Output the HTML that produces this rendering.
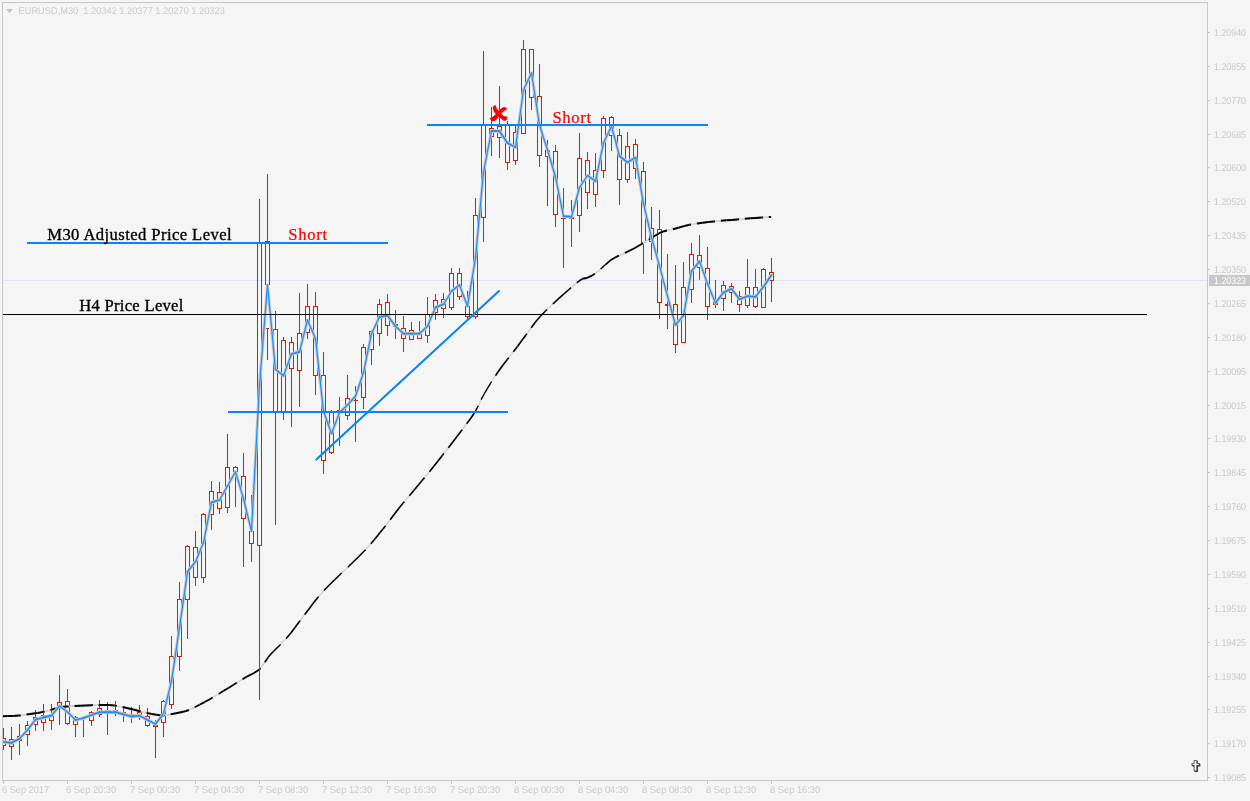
<!DOCTYPE html>
<html lang="en"><head><meta charset="utf-8"><title>EURUSD,M30</title>
<style>html,body{margin:0;padding:0;background:#f5f5f5;}body{width:1250px;height:801px;overflow:hidden;}svg{display:block;}.t{font-family:"Liberation Sans",sans-serif;font-size:9.8px;text-rendering:geometricPrecision;fill:#cacaca;}.s{font-family:"Liberation Serif",serif;font-size:16.6px;}</style></head><body>
<svg width="1250" height="801" viewBox="0 0 1250 801">
<rect x="0" y="0" width="1250" height="801" fill="#f5f5f5"/>
<defs><clipPath id="ca"><rect x="3" y="3" width="1204" height="777"/></clipPath></defs>
<g shape-rendering="crispEdges" fill="#c6c6c6">
<rect x="2" y="2" width="1206" height="1"/>
<rect x="2" y="2" width="1" height="779"/>
<rect x="1207" y="2" width="1" height="779"/>
<rect x="2" y="780" width="1206" height="1"/>
<rect x="1208" y="32" width="2" height="1"/>
<rect x="1208" y="66" width="2" height="1"/>
<rect x="1208" y="100" width="2" height="1"/>
<rect x="1208" y="134" width="2" height="1"/>
<rect x="1208" y="167" width="2" height="1"/>
<rect x="1208" y="201" width="2" height="1"/>
<rect x="1208" y="235" width="2" height="1"/>
<rect x="1208" y="269" width="2" height="1"/>
<rect x="1208" y="303" width="2" height="1"/>
<rect x="1208" y="337" width="2" height="1"/>
<rect x="1208" y="371" width="2" height="1"/>
<rect x="1208" y="405" width="2" height="1"/>
<rect x="1208" y="438" width="2" height="1"/>
<rect x="1208" y="472" width="2" height="1"/>
<rect x="1208" y="506" width="2" height="1"/>
<rect x="1208" y="540" width="2" height="1"/>
<rect x="1208" y="574" width="2" height="1"/>
<rect x="1208" y="608" width="2" height="1"/>
<rect x="1208" y="642" width="2" height="1"/>
<rect x="1208" y="676" width="2" height="1"/>
<rect x="1208" y="709" width="2" height="1"/>
<rect x="1208" y="743" width="2" height="1"/>
<rect x="1208" y="777" width="2" height="1"/>
<rect x="3" y="781" width="1" height="3"/>
<rect x="67" y="781" width="1" height="3"/>
<rect x="131" y="781" width="1" height="3"/>
<rect x="195" y="781" width="1" height="3"/>
<rect x="259" y="781" width="1" height="3"/>
<rect x="323" y="781" width="1" height="3"/>
<rect x="387" y="781" width="1" height="3"/>
<rect x="451" y="781" width="1" height="3"/>
<rect x="515" y="781" width="1" height="3"/>
<rect x="579" y="781" width="1" height="3"/>
<rect x="643" y="781" width="1" height="3"/>
<rect x="707" y="781" width="1" height="3"/>
<rect x="771" y="781" width="1" height="3"/>
</g>
<rect x="3" y="280" width="1204" height="1" fill="#e0e0f8" shape-rendering="crispEdges"/>
<g shape-rendering="crispEdges" fill="#d22000">
<rect x="3" y="728" width="1" height="10"/>
<rect x="3" y="746" width="1" height="4"/>
<rect x="3" y="738" width="3" height="1"/>
<rect x="3" y="745" width="3" height="1"/>
<rect x="5" y="738" width="1" height="8"/>
<rect x="11" y="727" width="1" height="12"/>
<rect x="11" y="747" width="1" height="13"/>
<rect x="9" y="739" width="5" height="1"/>
<rect x="9" y="746" width="5" height="1"/>
<rect x="9" y="739" width="1" height="8"/>
<rect x="13" y="739" width="1" height="8"/>
<rect x="19" y="724" width="1" height="12"/>
<rect x="19" y="741" width="1" height="14"/>
<rect x="17" y="736" width="5" height="1"/>
<rect x="17" y="740" width="5" height="1"/>
<rect x="17" y="736" width="1" height="5"/>
<rect x="21" y="736" width="1" height="5"/>
<rect x="27" y="721" width="1" height="4"/>
<rect x="27" y="735" width="1" height="11"/>
<rect x="25" y="725" width="5" height="1"/>
<rect x="25" y="734" width="5" height="1"/>
<rect x="25" y="725" width="1" height="10"/>
<rect x="29" y="725" width="1" height="10"/>
<rect x="35" y="710" width="1" height="7"/>
<rect x="35" y="725" width="1" height="6"/>
<rect x="33" y="717" width="5" height="1"/>
<rect x="33" y="724" width="5" height="1"/>
<rect x="33" y="717" width="1" height="8"/>
<rect x="37" y="717" width="1" height="8"/>
<rect x="43" y="704" width="1" height="11"/>
<rect x="43" y="723" width="1" height="8"/>
<rect x="41" y="715" width="5" height="1"/>
<rect x="41" y="722" width="5" height="1"/>
<rect x="41" y="715" width="1" height="8"/>
<rect x="45" y="715" width="1" height="8"/>
<rect x="51" y="704" width="1" height="10"/>
<rect x="51" y="721" width="1" height="9"/>
<rect x="49" y="714" width="5" height="1"/>
<rect x="49" y="720" width="5" height="1"/>
<rect x="49" y="714" width="1" height="7"/>
<rect x="53" y="714" width="1" height="7"/>
<rect x="59" y="675" width="1" height="27"/>
<rect x="59" y="709" width="1" height="16"/>
<rect x="57" y="702" width="5" height="1"/>
<rect x="57" y="708" width="5" height="1"/>
<rect x="57" y="702" width="1" height="7"/>
<rect x="61" y="702" width="1" height="7"/>
<rect x="67" y="689" width="1" height="12"/>
<rect x="67" y="724" width="1" height="1"/>
<rect x="65" y="701" width="5" height="1"/>
<rect x="65" y="723" width="5" height="1"/>
<rect x="65" y="701" width="1" height="23"/>
<rect x="69" y="701" width="1" height="23"/>
<rect x="75" y="716" width="1" height="1"/>
<rect x="75" y="725" width="1" height="12"/>
<rect x="73" y="717" width="5" height="1"/>
<rect x="73" y="724" width="5" height="1"/>
<rect x="73" y="717" width="1" height="8"/>
<rect x="77" y="717" width="1" height="8"/>
<rect x="83" y="717" width="1" height="1"/>
<rect x="83" y="719" width="1" height="18"/>
<rect x="81" y="718" width="5" height="1"/>
<rect x="91" y="711" width="1" height="1"/>
<rect x="91" y="721" width="1" height="5"/>
<rect x="89" y="712" width="5" height="1"/>
<rect x="89" y="720" width="5" height="1"/>
<rect x="89" y="712" width="1" height="9"/>
<rect x="93" y="712" width="1" height="9"/>
<rect x="99" y="700" width="1" height="8"/>
<rect x="99" y="715" width="1" height="2"/>
<rect x="97" y="708" width="5" height="1"/>
<rect x="97" y="714" width="5" height="1"/>
<rect x="97" y="708" width="1" height="7"/>
<rect x="101" y="708" width="1" height="7"/>
<rect x="107" y="702" width="1" height="8"/>
<rect x="107" y="712" width="1" height="23"/>
<rect x="105" y="710" width="5" height="1"/>
<rect x="105" y="711" width="5" height="1"/>
<rect x="105" y="710" width="1" height="2"/>
<rect x="109" y="710" width="1" height="2"/>
<rect x="115" y="701" width="1" height="9"/>
<rect x="115" y="713" width="1" height="3"/>
<rect x="113" y="710" width="5" height="1"/>
<rect x="113" y="712" width="5" height="1"/>
<rect x="113" y="710" width="1" height="3"/>
<rect x="117" y="710" width="1" height="3"/>
<rect x="123" y="708" width="1" height="4"/>
<rect x="123" y="715" width="1" height="7"/>
<rect x="121" y="712" width="5" height="1"/>
<rect x="121" y="714" width="5" height="1"/>
<rect x="121" y="712" width="1" height="3"/>
<rect x="125" y="712" width="1" height="3"/>
<rect x="131" y="707" width="1" height="7"/>
<rect x="131" y="717" width="1" height="6"/>
<rect x="129" y="714" width="5" height="1"/>
<rect x="129" y="716" width="5" height="1"/>
<rect x="129" y="714" width="1" height="3"/>
<rect x="133" y="714" width="1" height="3"/>
<rect x="139" y="705" width="1" height="7"/>
<rect x="139" y="716" width="1" height="4"/>
<rect x="137" y="712" width="5" height="1"/>
<rect x="137" y="715" width="5" height="1"/>
<rect x="137" y="712" width="1" height="4"/>
<rect x="141" y="712" width="1" height="4"/>
<rect x="147" y="708" width="1" height="8"/>
<rect x="147" y="726" width="1" height="1"/>
<rect x="145" y="716" width="5" height="1"/>
<rect x="145" y="725" width="5" height="1"/>
<rect x="145" y="716" width="1" height="10"/>
<rect x="149" y="716" width="1" height="10"/>
<rect x="155" y="720" width="1" height="5"/>
<rect x="155" y="727" width="1" height="31"/>
<rect x="153" y="725" width="5" height="1"/>
<rect x="153" y="726" width="5" height="1"/>
<rect x="153" y="725" width="1" height="2"/>
<rect x="157" y="725" width="1" height="2"/>
<rect x="163" y="700" width="1" height="1"/>
<rect x="163" y="723" width="1" height="14"/>
<rect x="161" y="701" width="5" height="1"/>
<rect x="161" y="722" width="5" height="1"/>
<rect x="161" y="701" width="1" height="22"/>
<rect x="165" y="701" width="1" height="22"/>
<rect x="171" y="636" width="1" height="20"/>
<rect x="171" y="705" width="1" height="4"/>
<rect x="169" y="656" width="5" height="1"/>
<rect x="169" y="704" width="5" height="1"/>
<rect x="169" y="656" width="1" height="49"/>
<rect x="173" y="656" width="1" height="49"/>
<rect x="179" y="582" width="1" height="17"/>
<rect x="179" y="657" width="1" height="14"/>
<rect x="177" y="599" width="5" height="1"/>
<rect x="177" y="656" width="5" height="1"/>
<rect x="177" y="599" width="1" height="58"/>
<rect x="181" y="599" width="1" height="58"/>
<rect x="187" y="545" width="1" height="1"/>
<rect x="187" y="600" width="1" height="39"/>
<rect x="185" y="546" width="5" height="1"/>
<rect x="185" y="599" width="5" height="1"/>
<rect x="185" y="546" width="1" height="54"/>
<rect x="189" y="546" width="1" height="54"/>
<rect x="195" y="531" width="1" height="16"/>
<rect x="195" y="578" width="1" height="8"/>
<rect x="193" y="547" width="5" height="1"/>
<rect x="193" y="577" width="5" height="1"/>
<rect x="193" y="547" width="1" height="31"/>
<rect x="197" y="547" width="1" height="31"/>
<rect x="203" y="513" width="1" height="1"/>
<rect x="203" y="578" width="1" height="5"/>
<rect x="201" y="514" width="5" height="1"/>
<rect x="201" y="577" width="5" height="1"/>
<rect x="201" y="514" width="1" height="64"/>
<rect x="205" y="514" width="1" height="64"/>
<rect x="211" y="481" width="1" height="10"/>
<rect x="211" y="515" width="1" height="15"/>
<rect x="209" y="491" width="5" height="1"/>
<rect x="209" y="514" width="5" height="1"/>
<rect x="209" y="491" width="1" height="24"/>
<rect x="213" y="491" width="1" height="24"/>
<rect x="219" y="482" width="1" height="10"/>
<rect x="219" y="509" width="1" height="5"/>
<rect x="217" y="492" width="5" height="1"/>
<rect x="217" y="508" width="5" height="1"/>
<rect x="217" y="492" width="1" height="17"/>
<rect x="221" y="492" width="1" height="17"/>
<rect x="227" y="434" width="1" height="33"/>
<rect x="227" y="508" width="1" height="5"/>
<rect x="225" y="467" width="5" height="1"/>
<rect x="225" y="507" width="5" height="1"/>
<rect x="225" y="467" width="1" height="41"/>
<rect x="229" y="467" width="1" height="41"/>
<rect x="235" y="466" width="1" height="1"/>
<rect x="235" y="472" width="1" height="35"/>
<rect x="233" y="467" width="5" height="1"/>
<rect x="233" y="471" width="5" height="1"/>
<rect x="233" y="467" width="1" height="5"/>
<rect x="237" y="467" width="1" height="5"/>
<rect x="243" y="453" width="1" height="23"/>
<rect x="243" y="519" width="1" height="48"/>
<rect x="241" y="476" width="5" height="1"/>
<rect x="241" y="518" width="5" height="1"/>
<rect x="241" y="476" width="1" height="43"/>
<rect x="245" y="476" width="1" height="43"/>
<rect x="251" y="495" width="1" height="36"/>
<rect x="251" y="544" width="1" height="18"/>
<rect x="249" y="531" width="5" height="1"/>
<rect x="249" y="543" width="5" height="1"/>
<rect x="249" y="531" width="1" height="13"/>
<rect x="253" y="531" width="1" height="13"/>
<rect x="259" y="199" width="1" height="43"/>
<rect x="259" y="546" width="1" height="154"/>
<rect x="257" y="242" width="5" height="1"/>
<rect x="257" y="545" width="5" height="1"/>
<rect x="257" y="242" width="1" height="304"/>
<rect x="261" y="242" width="1" height="304"/>
<rect x="267" y="174" width="1" height="67"/>
<rect x="266" y="328" width="3" height="1"/><rect x="267" y="328" width="1" height="32"/>
<rect x="265" y="241" width="5" height="1"/>
<rect x="265" y="284" width="5" height="1"/>
<rect x="265" y="241" width="1" height="44"/>
<rect x="269" y="241" width="1" height="44"/>
<rect x="275" y="311" width="1" height="18"/>
<rect x="275" y="412" width="1" height="113"/>
<rect x="273" y="329" width="5" height="1"/>
<rect x="273" y="411" width="5" height="1"/>
<rect x="273" y="329" width="1" height="83"/>
<rect x="277" y="329" width="1" height="83"/>
<rect x="283" y="337" width="1" height="3"/>
<rect x="283" y="412" width="1" height="8"/>
<rect x="281" y="340" width="5" height="1"/>
<rect x="281" y="411" width="5" height="1"/>
<rect x="281" y="340" width="1" height="72"/>
<rect x="285" y="340" width="1" height="72"/>
<rect x="291" y="337" width="1" height="5"/>
<rect x="291" y="369" width="1" height="58"/>
<rect x="289" y="342" width="5" height="1"/>
<rect x="289" y="368" width="5" height="1"/>
<rect x="289" y="342" width="1" height="27"/>
<rect x="293" y="342" width="1" height="27"/>
<rect x="299" y="293" width="1" height="40"/>
<rect x="299" y="371" width="1" height="36"/>
<rect x="297" y="333" width="5" height="1"/>
<rect x="297" y="370" width="5" height="1"/>
<rect x="297" y="333" width="1" height="38"/>
<rect x="301" y="333" width="1" height="38"/>
<rect x="307" y="284" width="1" height="22"/>
<rect x="307" y="333" width="1" height="6"/>
<rect x="305" y="306" width="5" height="1"/>
<rect x="305" y="332" width="5" height="1"/>
<rect x="305" y="306" width="1" height="27"/>
<rect x="309" y="306" width="1" height="27"/>
<rect x="315" y="292" width="1" height="14"/>
<rect x="315" y="376" width="1" height="19"/>
<rect x="313" y="306" width="5" height="1"/>
<rect x="313" y="375" width="5" height="1"/>
<rect x="313" y="306" width="1" height="70"/>
<rect x="317" y="306" width="1" height="70"/>
<rect x="323" y="352" width="1" height="23"/>
<rect x="323" y="461" width="1" height="13"/>
<rect x="321" y="375" width="5" height="1"/>
<rect x="321" y="460" width="5" height="1"/>
<rect x="321" y="375" width="1" height="86"/>
<rect x="325" y="375" width="1" height="86"/>
<rect x="331" y="410" width="1" height="2"/>
<rect x="331" y="453" width="1" height="1"/>
<rect x="329" y="412" width="5" height="1"/>
<rect x="329" y="452" width="5" height="1"/>
<rect x="329" y="412" width="1" height="41"/>
<rect x="333" y="412" width="1" height="41"/>
<rect x="339" y="397" width="1" height="13"/>
<rect x="339" y="413" width="1" height="33"/>
<rect x="337" y="410" width="5" height="1"/>
<rect x="337" y="412" width="5" height="1"/>
<rect x="337" y="410" width="1" height="3"/>
<rect x="341" y="410" width="1" height="3"/>
<rect x="347" y="375" width="1" height="23"/>
<rect x="347" y="416" width="1" height="4"/>
<rect x="345" y="398" width="5" height="1"/>
<rect x="345" y="415" width="5" height="1"/>
<rect x="345" y="398" width="1" height="18"/>
<rect x="349" y="398" width="1" height="18"/>
<rect x="355" y="386" width="1" height="14"/>
<rect x="355" y="401" width="1" height="41"/>
<rect x="353" y="400" width="5" height="1"/>
<rect x="363" y="344" width="1" height="3"/>
<rect x="363" y="398" width="1" height="11"/>
<rect x="361" y="347" width="5" height="1"/>
<rect x="361" y="397" width="5" height="1"/>
<rect x="361" y="347" width="1" height="51"/>
<rect x="365" y="347" width="1" height="51"/>
<rect x="371" y="330" width="1" height="1"/>
<rect x="371" y="350" width="1" height="15"/>
<rect x="369" y="331" width="5" height="1"/>
<rect x="369" y="349" width="5" height="1"/>
<rect x="369" y="331" width="1" height="19"/>
<rect x="373" y="331" width="1" height="19"/>
<rect x="379" y="299" width="1" height="5"/>
<rect x="379" y="334" width="1" height="12"/>
<rect x="377" y="304" width="5" height="1"/>
<rect x="377" y="333" width="5" height="1"/>
<rect x="377" y="304" width="1" height="30"/>
<rect x="381" y="304" width="1" height="30"/>
<rect x="387" y="294" width="1" height="8"/>
<rect x="387" y="326" width="1" height="10"/>
<rect x="385" y="302" width="5" height="1"/>
<rect x="385" y="325" width="5" height="1"/>
<rect x="385" y="302" width="1" height="24"/>
<rect x="389" y="302" width="1" height="24"/>
<rect x="395" y="310" width="1" height="14"/>
<rect x="395" y="327" width="1" height="12"/>
<rect x="393" y="324" width="5" height="1"/>
<rect x="393" y="326" width="5" height="1"/>
<rect x="393" y="324" width="1" height="3"/>
<rect x="397" y="324" width="1" height="3"/>
<rect x="403" y="316" width="1" height="12"/>
<rect x="403" y="339" width="1" height="13"/>
<rect x="401" y="328" width="5" height="1"/>
<rect x="401" y="338" width="5" height="1"/>
<rect x="401" y="328" width="1" height="11"/>
<rect x="405" y="328" width="1" height="11"/>
<rect x="411" y="322" width="1" height="8"/>
<rect x="409" y="330" width="5" height="1"/>
<rect x="409" y="339" width="5" height="1"/>
<rect x="409" y="330" width="1" height="10"/>
<rect x="413" y="330" width="1" height="10"/>
<rect x="419" y="321" width="1" height="11"/>
<rect x="417" y="332" width="5" height="1"/>
<rect x="417" y="338" width="5" height="1"/>
<rect x="417" y="332" width="1" height="7"/>
<rect x="421" y="332" width="1" height="7"/>
<rect x="427" y="297" width="1" height="17"/>
<rect x="427" y="336" width="1" height="7"/>
<rect x="425" y="314" width="5" height="1"/>
<rect x="425" y="335" width="5" height="1"/>
<rect x="425" y="314" width="1" height="22"/>
<rect x="429" y="314" width="1" height="22"/>
<rect x="435" y="294" width="1" height="6"/>
<rect x="435" y="313" width="1" height="7"/>
<rect x="433" y="300" width="5" height="1"/>
<rect x="433" y="312" width="5" height="1"/>
<rect x="433" y="300" width="1" height="13"/>
<rect x="437" y="300" width="1" height="13"/>
<rect x="443" y="293" width="1" height="6"/>
<rect x="443" y="309" width="1" height="9"/>
<rect x="441" y="299" width="5" height="1"/>
<rect x="441" y="308" width="5" height="1"/>
<rect x="441" y="299" width="1" height="10"/>
<rect x="445" y="299" width="1" height="10"/>
<rect x="451" y="268" width="1" height="5"/>
<rect x="451" y="308" width="1" height="2"/>
<rect x="449" y="273" width="5" height="1"/>
<rect x="449" y="307" width="5" height="1"/>
<rect x="449" y="273" width="1" height="35"/>
<rect x="453" y="273" width="1" height="35"/>
<rect x="459" y="268" width="1" height="5"/>
<rect x="459" y="297" width="1" height="3"/>
<rect x="457" y="273" width="5" height="1"/>
<rect x="457" y="296" width="5" height="1"/>
<rect x="457" y="273" width="1" height="24"/>
<rect x="461" y="273" width="1" height="24"/>
<rect x="467" y="291" width="1" height="15"/>
<rect x="467" y="317" width="1" height="2"/>
<rect x="465" y="306" width="5" height="1"/>
<rect x="465" y="316" width="5" height="1"/>
<rect x="465" y="306" width="1" height="11"/>
<rect x="469" y="306" width="1" height="11"/>
<rect x="475" y="198" width="1" height="17"/>
<rect x="475" y="317" width="1" height="2"/>
<rect x="473" y="215" width="5" height="1"/>
<rect x="473" y="316" width="5" height="1"/>
<rect x="473" y="215" width="1" height="102"/>
<rect x="477" y="215" width="1" height="102"/>
<rect x="483" y="51" width="1" height="74"/>
<rect x="483" y="218" width="1" height="24"/>
<rect x="481" y="125" width="5" height="1"/>
<rect x="481" y="217" width="5" height="1"/>
<rect x="481" y="125" width="1" height="93"/>
<rect x="485" y="125" width="1" height="93"/>
<rect x="491" y="107" width="1" height="21"/>
<rect x="491" y="137" width="1" height="19"/>
<rect x="489" y="128" width="5" height="1"/>
<rect x="489" y="136" width="5" height="1"/>
<rect x="489" y="128" width="1" height="9"/>
<rect x="493" y="128" width="1" height="9"/>
<rect x="499" y="86" width="1" height="40"/>
<rect x="499" y="138" width="1" height="20"/>
<rect x="497" y="126" width="5" height="1"/>
<rect x="497" y="137" width="5" height="1"/>
<rect x="497" y="126" width="1" height="12"/>
<rect x="501" y="126" width="1" height="12"/>
<rect x="507" y="121" width="1" height="4"/>
<rect x="507" y="163" width="1" height="7"/>
<rect x="505" y="125" width="5" height="1"/>
<rect x="505" y="162" width="5" height="1"/>
<rect x="505" y="125" width="1" height="38"/>
<rect x="509" y="125" width="1" height="38"/>
<rect x="515" y="126" width="1" height="6"/>
<rect x="515" y="161" width="1" height="4"/>
<rect x="513" y="132" width="5" height="1"/>
<rect x="513" y="160" width="5" height="1"/>
<rect x="513" y="132" width="1" height="29"/>
<rect x="517" y="132" width="1" height="29"/>
<rect x="523" y="40" width="1" height="9"/>
<rect x="521" y="49" width="5" height="1"/>
<rect x="521" y="133" width="5" height="1"/>
<rect x="521" y="49" width="1" height="85"/>
<rect x="525" y="49" width="1" height="85"/>
<rect x="531" y="98" width="1" height="12"/>
<rect x="529" y="49" width="5" height="1"/>
<rect x="529" y="97" width="5" height="1"/>
<rect x="529" y="49" width="1" height="49"/>
<rect x="533" y="49" width="1" height="49"/>
<rect x="539" y="64" width="1" height="32"/>
<rect x="539" y="156" width="1" height="11"/>
<rect x="537" y="96" width="5" height="1"/>
<rect x="537" y="155" width="5" height="1"/>
<rect x="537" y="96" width="1" height="60"/>
<rect x="541" y="96" width="1" height="60"/>
<rect x="547" y="140" width="1" height="10"/>
<rect x="547" y="157" width="1" height="49"/>
<rect x="545" y="150" width="5" height="1"/>
<rect x="545" y="156" width="5" height="1"/>
<rect x="545" y="150" width="1" height="7"/>
<rect x="549" y="150" width="1" height="7"/>
<rect x="555" y="145" width="1" height="6"/>
<rect x="555" y="215" width="1" height="12"/>
<rect x="553" y="151" width="5" height="1"/>
<rect x="553" y="214" width="5" height="1"/>
<rect x="553" y="151" width="1" height="64"/>
<rect x="557" y="151" width="1" height="64"/>
<rect x="563" y="188" width="1" height="30"/>
<rect x="563" y="219" width="1" height="49"/>
<rect x="561" y="218" width="5" height="1"/>
<rect x="571" y="200" width="1" height="17"/>
<rect x="571" y="219" width="1" height="28"/>
<rect x="569" y="217" width="5" height="1"/>
<rect x="569" y="218" width="5" height="1"/>
<rect x="569" y="217" width="1" height="2"/>
<rect x="573" y="217" width="1" height="2"/>
<rect x="579" y="133" width="1" height="25"/>
<rect x="579" y="216" width="1" height="16"/>
<rect x="577" y="158" width="5" height="1"/>
<rect x="577" y="215" width="5" height="1"/>
<rect x="577" y="158" width="1" height="58"/>
<rect x="581" y="158" width="1" height="58"/>
<rect x="587" y="152" width="1" height="8"/>
<rect x="587" y="193" width="1" height="16"/>
<rect x="585" y="160" width="5" height="1"/>
<rect x="585" y="192" width="5" height="1"/>
<rect x="585" y="160" width="1" height="33"/>
<rect x="589" y="160" width="1" height="33"/>
<rect x="595" y="153" width="1" height="17"/>
<rect x="595" y="195" width="1" height="12"/>
<rect x="593" y="170" width="5" height="1"/>
<rect x="593" y="194" width="5" height="1"/>
<rect x="593" y="170" width="1" height="25"/>
<rect x="597" y="170" width="1" height="25"/>
<rect x="603" y="116" width="1" height="2"/>
<rect x="603" y="171" width="1" height="7"/>
<rect x="601" y="118" width="5" height="1"/>
<rect x="601" y="170" width="5" height="1"/>
<rect x="601" y="118" width="1" height="53"/>
<rect x="605" y="118" width="1" height="53"/>
<rect x="611" y="116" width="1" height="1"/>
<rect x="611" y="136" width="1" height="15"/>
<rect x="609" y="117" width="5" height="1"/>
<rect x="609" y="135" width="5" height="1"/>
<rect x="609" y="117" width="1" height="19"/>
<rect x="613" y="117" width="1" height="19"/>
<rect x="619" y="129" width="1" height="6"/>
<rect x="619" y="180" width="1" height="25"/>
<rect x="617" y="135" width="5" height="1"/>
<rect x="617" y="179" width="5" height="1"/>
<rect x="617" y="135" width="1" height="45"/>
<rect x="621" y="135" width="1" height="45"/>
<rect x="627" y="132" width="1" height="14"/>
<rect x="627" y="180" width="1" height="3"/>
<rect x="625" y="146" width="5" height="1"/>
<rect x="625" y="179" width="5" height="1"/>
<rect x="625" y="146" width="1" height="34"/>
<rect x="629" y="146" width="1" height="34"/>
<rect x="635" y="139" width="1" height="5"/>
<rect x="635" y="169" width="1" height="10"/>
<rect x="633" y="144" width="5" height="1"/>
<rect x="633" y="168" width="5" height="1"/>
<rect x="633" y="144" width="1" height="25"/>
<rect x="637" y="144" width="1" height="25"/>
<rect x="643" y="162" width="1" height="9"/>
<rect x="643" y="243" width="1" height="31"/>
<rect x="641" y="171" width="5" height="1"/>
<rect x="641" y="242" width="5" height="1"/>
<rect x="641" y="171" width="1" height="72"/>
<rect x="645" y="171" width="1" height="72"/>
<rect x="651" y="207" width="1" height="21"/>
<rect x="651" y="242" width="1" height="18"/>
<rect x="649" y="228" width="5" height="1"/>
<rect x="649" y="241" width="5" height="1"/>
<rect x="649" y="228" width="1" height="14"/>
<rect x="653" y="228" width="1" height="14"/>
<rect x="659" y="210" width="1" height="19"/>
<rect x="659" y="303" width="1" height="16"/>
<rect x="657" y="229" width="5" height="1"/>
<rect x="657" y="302" width="5" height="1"/>
<rect x="657" y="229" width="1" height="74"/>
<rect x="661" y="229" width="1" height="74"/>
<rect x="667" y="254" width="1" height="50"/>
<rect x="667" y="306" width="1" height="23"/>
<rect x="665" y="304" width="5" height="1"/>
<rect x="665" y="305" width="5" height="1"/>
<rect x="665" y="304" width="1" height="2"/>
<rect x="669" y="304" width="1" height="2"/>
<rect x="675" y="265" width="1" height="39"/>
<rect x="675" y="345" width="1" height="8"/>
<rect x="673" y="304" width="5" height="1"/>
<rect x="673" y="344" width="5" height="1"/>
<rect x="673" y="304" width="1" height="41"/>
<rect x="677" y="304" width="1" height="41"/>
<rect x="683" y="262" width="1" height="25"/>
<rect x="681" y="287" width="5" height="1"/>
<rect x="681" y="342" width="5" height="1"/>
<rect x="681" y="287" width="1" height="56"/>
<rect x="685" y="287" width="1" height="56"/>
<rect x="691" y="243" width="1" height="11"/>
<rect x="691" y="290" width="1" height="13"/>
<rect x="689" y="254" width="5" height="1"/>
<rect x="689" y="289" width="5" height="1"/>
<rect x="689" y="254" width="1" height="36"/>
<rect x="693" y="254" width="1" height="36"/>
<rect x="699" y="235" width="1" height="20"/>
<rect x="699" y="268" width="1" height="12"/>
<rect x="697" y="255" width="5" height="1"/>
<rect x="697" y="267" width="5" height="1"/>
<rect x="697" y="255" width="1" height="13"/>
<rect x="701" y="255" width="1" height="13"/>
<rect x="707" y="247" width="1" height="21"/>
<rect x="707" y="307" width="1" height="13"/>
<rect x="705" y="268" width="5" height="1"/>
<rect x="705" y="306" width="5" height="1"/>
<rect x="705" y="268" width="1" height="39"/>
<rect x="709" y="268" width="1" height="39"/>
<rect x="715" y="280" width="1" height="22"/>
<rect x="715" y="305" width="1" height="3"/>
<rect x="713" y="302" width="5" height="1"/>
<rect x="713" y="304" width="5" height="1"/>
<rect x="713" y="302" width="1" height="3"/>
<rect x="717" y="302" width="1" height="3"/>
<rect x="723" y="281" width="1" height="4"/>
<rect x="723" y="299" width="1" height="12"/>
<rect x="721" y="285" width="5" height="1"/>
<rect x="721" y="298" width="5" height="1"/>
<rect x="721" y="285" width="1" height="14"/>
<rect x="725" y="285" width="1" height="14"/>
<rect x="731" y="283" width="1" height="3"/>
<rect x="731" y="293" width="1" height="10"/>
<rect x="729" y="286" width="5" height="1"/>
<rect x="729" y="292" width="5" height="1"/>
<rect x="729" y="286" width="1" height="7"/>
<rect x="733" y="286" width="1" height="7"/>
<rect x="739" y="291" width="1" height="5"/>
<rect x="739" y="305" width="1" height="7"/>
<rect x="737" y="296" width="5" height="1"/>
<rect x="737" y="304" width="5" height="1"/>
<rect x="737" y="296" width="1" height="9"/>
<rect x="741" y="296" width="1" height="9"/>
<rect x="747" y="259" width="1" height="28"/>
<rect x="747" y="306" width="1" height="2"/>
<rect x="745" y="287" width="5" height="1"/>
<rect x="745" y="305" width="5" height="1"/>
<rect x="745" y="287" width="1" height="19"/>
<rect x="749" y="287" width="1" height="19"/>
<rect x="755" y="269" width="1" height="18"/>
<rect x="755" y="307" width="1" height="1"/>
<rect x="753" y="287" width="5" height="1"/>
<rect x="753" y="306" width="5" height="1"/>
<rect x="753" y="287" width="1" height="20"/>
<rect x="757" y="287" width="1" height="20"/>
<rect x="763" y="268" width="1" height="1"/>
<rect x="761" y="269" width="5" height="1"/>
<rect x="761" y="307" width="5" height="1"/>
<rect x="761" y="269" width="1" height="39"/>
<rect x="765" y="269" width="1" height="39"/>
<rect x="771" y="258" width="1" height="14"/>
<rect x="771" y="281" width="1" height="21"/>
<rect x="769" y="272" width="5" height="1"/>
<rect x="769" y="280" width="5" height="1"/>
<rect x="769" y="272" width="1" height="9"/>
<rect x="773" y="272" width="1" height="9"/>
</g>
<g clip-path="url(#ca)" stroke="#d4d4d4" stroke-linecap="round" fill="none"><line x1="2.5" y1="716.3" x2="10.2" y2="716.0" stroke-width="2.00"/><line x1="10.2" y1="716.0" x2="19.0" y2="715.6" stroke-width="2.00"/><line x1="19.0" y1="715.6" x2="23.0" y2="715.1" stroke-width="1.99"/><line x1="23.0" y1="715.1" x2="27.0" y2="714.4" stroke-width="1.97"/><line x1="27.0" y1="714.4" x2="34.5" y2="713.4" stroke-width="1.98"/><line x1="34.5" y1="713.4" x2="43.0" y2="712.0" stroke-width="1.97"/><line x1="43.0" y1="712.0" x2="51.5" y2="709.7" stroke-width="1.93"/><line x1="51.5" y1="709.7" x2="59.0" y2="707.5" stroke-width="1.92"/><line x1="59.0" y1="707.5" x2="63.0" y2="706.8" stroke-width="1.97"/><line x1="63.0" y1="706.8" x2="67.0" y2="706.5" stroke-width="2.00"/><line x1="67.0" y1="706.5" x2="74.5" y2="706.0" stroke-width="2.00"/><line x1="74.5" y1="706.0" x2="83.0" y2="705.6" stroke-width="2.00"/><line x1="83.0" y1="705.6" x2="91.0" y2="705.2" stroke-width="2.00"/><line x1="91.0" y1="705.2" x2="99.0" y2="705.0" stroke-width="2.00"/><line x1="99.0" y1="705.0" x2="107.0" y2="705.1" stroke-width="2.00"/><line x1="107.0" y1="705.1" x2="115.0" y2="705.6" stroke-width="2.00"/><line x1="115.0" y1="705.6" x2="123.0" y2="707.1" stroke-width="1.97"/><line x1="123.0" y1="707.1" x2="131.0" y2="709.0" stroke-width="1.95"/><line x1="131.0" y1="709.0" x2="139.5" y2="711.1" stroke-width="1.94"/><line x1="139.5" y1="711.1" x2="147.0" y2="713.0" stroke-width="1.94"/><line x1="147.0" y1="713.0" x2="151.5" y2="713.9" stroke-width="1.96"/><line x1="151.5" y1="713.9" x2="155.0" y2="714.5" stroke-width="1.97"/><line x1="155.0" y1="714.5" x2="158.5" y2="715.2" stroke-width="1.96"/><line x1="158.5" y1="715.2" x2="162.5" y2="715.5" stroke-width="2.00"/><line x1="162.5" y1="715.5" x2="168.4" y2="714.8" stroke-width="1.98"/><line x1="168.4" y1="714.8" x2="175.0" y2="713.5" stroke-width="1.96"/><line x1="175.0" y1="713.5" x2="181.2" y2="712.2" stroke-width="1.96"/><line x1="181.2" y1="712.2" x2="187.5" y2="710.5" stroke-width="1.93"/><line x1="187.5" y1="710.5" x2="193.8" y2="707.7" stroke-width="1.83"/><line x1="193.8" y1="707.7" x2="200.0" y2="704.5" stroke-width="1.78"/><line x1="200.0" y1="704.5" x2="206.2" y2="701.2" stroke-width="1.77"/><line x1="206.2" y1="701.2" x2="212.4" y2="697.7" stroke-width="1.74"/><line x1="212.4" y1="697.7" x2="218.7" y2="693.9" stroke-width="1.71"/><line x1="218.7" y1="693.9" x2="225.0" y2="690.0" stroke-width="1.70"/><line x1="225.0" y1="690.0" x2="231.3" y2="686.1" stroke-width="1.70"/><line x1="231.3" y1="686.1" x2="237.4" y2="682.4" stroke-width="1.71"/><line x1="237.4" y1="682.4" x2="242.8" y2="679.1" stroke-width="1.71"/><line x1="242.8" y1="679.1" x2="248.0" y2="676.0" stroke-width="1.72"/><line x1="248.0" y1="676.0" x2="253.8" y2="673.1" stroke-width="1.80"/><line x1="253.8" y1="673.1" x2="259.6" y2="669.3" stroke-width="1.67"/><line x1="259.6" y1="669.3" x2="264.5" y2="662.7" stroke-width="1.60"/><line x1="264.5" y1="662.7" x2="270.0" y2="654.9" stroke-width="1.64"/><line x1="270.0" y1="654.9" x2="277.7" y2="647.2" stroke-width="1.41"/><line x1="277.7" y1="647.2" x2="286.2" y2="638.6" stroke-width="1.42"/><line x1="286.2" y1="638.6" x2="294.4" y2="628.3" stroke-width="1.57"/><line x1="294.4" y1="628.3" x2="302.5" y2="617.5" stroke-width="1.60"/><line x1="302.5" y1="617.5" x2="310.6" y2="606.7" stroke-width="1.60"/><line x1="310.6" y1="606.7" x2="318.7" y2="596.4" stroke-width="1.57"/><line x1="318.7" y1="596.4" x2="326.8" y2="587.6" stroke-width="1.47"/><line x1="326.8" y1="587.6" x2="334.9" y2="579.5" stroke-width="1.41"/><line x1="334.9" y1="579.5" x2="343.1" y2="571.7" stroke-width="1.45"/><line x1="343.1" y1="571.7" x2="351.2" y2="564.0" stroke-width="1.45"/><line x1="351.2" y1="564.0" x2="359.3" y2="556.1" stroke-width="1.43"/><line x1="359.3" y1="556.1" x2="367.4" y2="547.7" stroke-width="1.44"/><line x1="367.4" y1="547.7" x2="375.5" y2="538.2" stroke-width="1.52"/><line x1="375.5" y1="538.2" x2="383.6" y2="528.2" stroke-width="1.56"/><line x1="383.6" y1="528.2" x2="391.8" y2="517.6" stroke-width="1.58"/><line x1="391.8" y1="517.6" x2="399.9" y2="507.1" stroke-width="1.58"/><line x1="399.9" y1="507.1" x2="408.0" y2="497.3" stroke-width="1.54"/><line x1="408.0" y1="497.3" x2="416.1" y2="487.7" stroke-width="1.53"/><line x1="416.1" y1="487.7" x2="424.3" y2="477.9" stroke-width="1.53"/><line x1="424.3" y1="477.9" x2="432.3" y2="468.2" stroke-width="1.54"/><line x1="432.3" y1="468.2" x2="439.8" y2="458.7" stroke-width="1.57"/><line x1="439.8" y1="458.7" x2="447.5" y2="448.8" stroke-width="1.58"/><line x1="447.5" y1="448.8" x2="456.5" y2="437.1" stroke-width="1.58"/><line x1="456.5" y1="437.1" x2="464.9" y2="426.1" stroke-width="1.59"/><line x1="464.9" y1="426.1" x2="470.6" y2="418.4" stroke-width="1.61"/><line x1="470.6" y1="418.4" x2="475.1" y2="411.7" stroke-width="1.66"/><line x1="475.1" y1="411.7" x2="478.8" y2="404.5" stroke-width="1.32"/><line x1="478.8" y1="404.5" x2="482.4" y2="397.2" stroke-width="1.32"/><line x1="482.4" y1="397.2" x2="486.7" y2="389.7" stroke-width="1.32"/><line x1="486.7" y1="389.7" x2="491.1" y2="382.4" stroke-width="1.32"/><line x1="491.1" y1="382.4" x2="495.5" y2="375.6" stroke-width="1.32"/><line x1="495.5" y1="375.6" x2="499.9" y2="369.3" stroke-width="1.64"/><line x1="499.9" y1="369.3" x2="504.3" y2="363.5" stroke-width="1.60"/><line x1="504.3" y1="363.5" x2="508.6" y2="357.9" stroke-width="1.58"/><line x1="508.6" y1="357.9" x2="512.7" y2="352.6" stroke-width="1.58"/><line x1="512.7" y1="352.6" x2="517.3" y2="346.6" stroke-width="1.59"/><line x1="517.3" y1="346.6" x2="523.4" y2="338.3" stroke-width="1.61"/><line x1="523.4" y1="338.3" x2="529.6" y2="330.0" stroke-width="1.61"/><line x1="529.6" y1="330.0" x2="534.1" y2="323.9" stroke-width="1.62"/><line x1="534.1" y1="323.9" x2="538.7" y2="318.1" stroke-width="1.56"/><line x1="538.7" y1="318.1" x2="545.3" y2="311.3" stroke-width="1.44"/><line x1="545.3" y1="311.3" x2="552.4" y2="304.4" stroke-width="1.44"/><line x1="552.4" y1="304.4" x2="559.2" y2="298.1" stroke-width="1.47"/><line x1="559.2" y1="298.1" x2="566.1" y2="292.0" stroke-width="1.50"/><line x1="566.1" y1="292.0" x2="573.9" y2="285.1" stroke-width="1.50"/><line x1="573.9" y1="285.1" x2="581.0" y2="279.5" stroke-width="1.57"/><line x1="581.0" y1="279.5" x2="585.1" y2="278.1" stroke-width="1.89"/><line x1="585.1" y1="278.1" x2="588.5" y2="277.5" stroke-width="1.97"/><line x1="588.5" y1="277.5" x2="593.1" y2="274.9" stroke-width="1.74"/><line x1="593.1" y1="274.9" x2="598.4" y2="271.1" stroke-width="1.63"/><line x1="598.4" y1="271.1" x2="604.5" y2="265.5" stroke-width="1.47"/><line x1="604.5" y1="265.5" x2="610.9" y2="259.9" stroke-width="1.51"/><line x1="610.9" y1="259.9" x2="617.1" y2="256.5" stroke-width="1.76"/><line x1="617.1" y1="256.5" x2="623.4" y2="253.7" stroke-width="1.83"/><line x1="623.4" y1="253.7" x2="629.6" y2="250.6" stroke-width="1.80"/><line x1="629.6" y1="250.6" x2="635.9" y2="247.4" stroke-width="1.78"/><line x1="635.9" y1="247.4" x2="642.2" y2="243.7" stroke-width="1.72"/><line x1="642.2" y1="243.7" x2="648.4" y2="239.9" stroke-width="1.71"/><line x1="648.4" y1="239.9" x2="654.6" y2="235.9" stroke-width="1.68"/><line x1="654.6" y1="235.9" x2="660.8" y2="232.4" stroke-width="1.74"/><line x1="660.8" y1="232.4" x2="666.7" y2="230.6" stroke-width="1.91"/><line x1="666.7" y1="230.6" x2="673.3" y2="229.1" stroke-width="1.95"/><line x1="673.3" y1="229.1" x2="681.9" y2="226.7" stroke-width="1.93"/><line x1="681.9" y1="226.7" x2="692.0" y2="224.3" stroke-width="1.95"/><line x1="692.0" y1="224.3" x2="704.7" y2="222.5" stroke-width="1.98"/><line x1="704.7" y1="222.5" x2="717.2" y2="221.1" stroke-width="1.99"/><line x1="717.2" y1="221.1" x2="725.8" y2="220.4" stroke-width="1.99"/><line x1="725.8" y1="220.4" x2="733.7" y2="219.8" stroke-width="2.00"/><line x1="733.7" y1="219.8" x2="743.2" y2="218.9" stroke-width="1.99"/><line x1="743.2" y1="218.9" x2="752.9" y2="218.1" stroke-width="1.99"/><line x1="752.9" y1="218.1" x2="763.1" y2="217.4" stroke-width="2.00"/><line x1="763.1" y1="217.4" x2="771.0" y2="217.0" stroke-width="2.00"/></g>
<g clip-path="url(#ca)" stroke="#000" stroke-linecap="butt" fill="none"><line x1="2.5" y1="716.3" x2="7.8" y2="716.1" stroke-width="2.00"/><line x1="7.8" y1="716.1" x2="13.3" y2="715.9" stroke-width="2.00"/><line x1="13.3" y1="715.9" x2="18.8" y2="715.6" stroke-width="2.00"/><line x1="18.8" y1="715.6" x2="20.7" y2="715.4" stroke-width="1.99"/></g><g clip-path="url(#ca)" stroke="#000" stroke-linecap="butt" fill="none"><line x1="26.5" y1="714.5" x2="32.0" y2="713.7" stroke-width="1.98"/><line x1="32.0" y1="713.7" x2="37.6" y2="713.0" stroke-width="1.98"/><line x1="37.6" y1="713.0" x2="43.2" y2="711.9" stroke-width="1.97"/><line x1="43.2" y1="711.9" x2="44.6" y2="711.6" stroke-width="1.95"/></g><g clip-path="url(#ca)" stroke="#000" stroke-linecap="butt" fill="none"><line x1="50.5" y1="710.0" x2="56.1" y2="708.3" stroke-width="1.91"/><line x1="56.1" y1="708.3" x2="61.4" y2="707.0" stroke-width="1.94"/><line x1="61.4" y1="707.0" x2="65.9" y2="706.6" stroke-width="1.99"/><line x1="65.9" y1="706.6" x2="68.7" y2="706.4" stroke-width="1.99"/></g><g clip-path="url(#ca)" stroke="#000" stroke-linecap="butt" fill="none"><line x1="74.5" y1="706.0" x2="80.2" y2="705.7" stroke-width="2.00"/><line x1="80.2" y1="705.7" x2="85.7" y2="705.5" stroke-width="2.00"/><line x1="85.7" y1="705.5" x2="91.0" y2="705.2" stroke-width="2.00"/><line x1="91.0" y1="705.2" x2="92.8" y2="705.1" stroke-width="2.00"/></g><g clip-path="url(#ca)" stroke="#000" stroke-linecap="butt" fill="none"><line x1="98.6" y1="705.0" x2="103.9" y2="705.0" stroke-width="2.00"/><line x1="103.9" y1="705.0" x2="109.2" y2="705.1" stroke-width="2.00"/><line x1="109.2" y1="705.1" x2="114.6" y2="705.5" stroke-width="1.99"/><line x1="114.6" y1="705.5" x2="116.8" y2="705.9" stroke-width="1.98"/></g><g clip-path="url(#ca)" stroke="#000" stroke-linecap="butt" fill="none"><line x1="122.6" y1="707.0" x2="127.9" y2="708.3" stroke-width="1.95"/><line x1="127.9" y1="708.3" x2="133.3" y2="709.5" stroke-width="1.95"/><line x1="133.3" y1="709.5" x2="139.0" y2="711.0" stroke-width="1.94"/><line x1="139.0" y1="711.0" x2="140.7" y2="711.4" stroke-width="1.94"/></g><g clip-path="url(#ca)" stroke="#000" stroke-linecap="butt" fill="none"><line x1="146.6" y1="712.9" x2="151.7" y2="714.0" stroke-width="1.96"/><line x1="151.7" y1="714.0" x2="156.4" y2="714.8" stroke-width="1.97"/><line x1="156.4" y1="714.8" x2="161.2" y2="715.5" stroke-width="1.98"/><line x1="161.2" y1="715.5" x2="164.8" y2="715.3" stroke-width="2.00"/></g><g clip-path="url(#ca)" stroke="#000" stroke-linecap="butt" fill="none"><line x1="170.6" y1="714.4" x2="175.8" y2="713.3" stroke-width="1.96"/><line x1="175.8" y1="713.3" x2="180.8" y2="712.3" stroke-width="1.96"/><line x1="180.8" y1="712.3" x2="185.8" y2="711.1" stroke-width="1.94"/><line x1="185.8" y1="711.1" x2="188.8" y2="710.0" stroke-width="1.89"/></g><g clip-path="url(#ca)" stroke="#000" stroke-linecap="butt" fill="none"><line x1="194.6" y1="707.3" x2="199.6" y2="704.7" stroke-width="1.77"/><line x1="199.6" y1="704.7" x2="204.5" y2="702.1" stroke-width="1.77"/><line x1="204.5" y1="702.1" x2="209.5" y2="699.4" stroke-width="1.75"/><line x1="209.5" y1="699.4" x2="212.6" y2="697.6" stroke-width="1.73"/></g><g clip-path="url(#ca)" stroke="#000" stroke-linecap="butt" fill="none"><line x1="218.7" y1="693.9" x2="223.7" y2="690.8" stroke-width="1.70"/><line x1="223.7" y1="690.8" x2="228.8" y2="687.7" stroke-width="1.70"/><line x1="228.8" y1="687.7" x2="233.8" y2="684.6" stroke-width="1.70"/><line x1="233.8" y1="684.6" x2="236.7" y2="682.8" stroke-width="1.71"/></g><g clip-path="url(#ca)" stroke="#000" stroke-linecap="butt" fill="none"><line x1="242.5" y1="679.3" x2="247.8" y2="676.1" stroke-width="1.72"/><line x1="247.8" y1="676.1" x2="253.6" y2="673.3" stroke-width="1.79"/><line x1="253.6" y1="673.3" x2="259.4" y2="669.5" stroke-width="1.68"/><line x1="259.4" y1="669.5" x2="260.7" y2="668.2" stroke-width="1.44"/></g><g clip-path="url(#ca)" stroke="#000" stroke-linecap="butt" fill="none"><line x1="264.8" y1="662.3" x2="268.3" y2="657.1" stroke-width="1.66"/><line x1="268.3" y1="657.1" x2="272.8" y2="651.9" stroke-width="1.50"/><line x1="272.8" y1="651.9" x2="278.2" y2="646.7" stroke-width="1.44"/><line x1="278.2" y1="646.7" x2="280.6" y2="644.5" stroke-width="1.45"/></g><g clip-path="url(#ca)" stroke="#000" stroke-linecap="butt" fill="none"><line x1="286.2" y1="638.6" x2="290.9" y2="632.9" stroke-width="1.55"/><line x1="290.9" y1="632.9" x2="295.0" y2="627.4" stroke-width="1.59"/><line x1="295.0" y1="627.4" x2="299.1" y2="622.0" stroke-width="1.60"/><line x1="299.1" y1="622.0" x2="300.1" y2="620.6" stroke-width="1.60"/></g><g clip-path="url(#ca)" stroke="#000" stroke-linecap="butt" fill="none"><line x1="304.7" y1="614.6" x2="308.8" y2="609.2" stroke-width="1.60"/><line x1="308.8" y1="609.2" x2="312.8" y2="603.8" stroke-width="1.60"/><line x1="312.8" y1="603.8" x2="317.4" y2="598.0" stroke-width="1.57"/><line x1="317.4" y1="598.0" x2="318.5" y2="596.6" stroke-width="1.53"/></g><g clip-path="url(#ca)" stroke="#000" stroke-linecap="butt" fill="none"><line x1="323.9" y1="590.6" x2="329.3" y2="585.1" stroke-width="1.43"/><line x1="329.3" y1="585.1" x2="334.7" y2="579.7" stroke-width="1.42"/><line x1="334.7" y1="579.7" x2="340.1" y2="574.5" stroke-width="1.44"/><line x1="340.1" y1="574.5" x2="341.7" y2="573.0" stroke-width="1.46"/></g><g clip-path="url(#ca)" stroke="#000" stroke-linecap="butt" fill="none"><line x1="347.8" y1="567.3" x2="353.2" y2="562.0" stroke-width="1.44"/><line x1="353.2" y1="562.0" x2="358.6" y2="556.8" stroke-width="1.43"/><line x1="358.6" y1="556.8" x2="364.0" y2="551.3" stroke-width="1.42"/><line x1="364.0" y1="551.3" x2="365.6" y2="549.7" stroke-width="1.45"/></g><g clip-path="url(#ca)" stroke="#000" stroke-linecap="butt" fill="none"><line x1="370.9" y1="543.8" x2="375.5" y2="538.2" stroke-width="1.53"/><line x1="375.5" y1="538.2" x2="380.1" y2="532.5" stroke-width="1.55"/><line x1="380.1" y1="532.5" x2="384.8" y2="526.7" stroke-width="1.56"/><line x1="384.8" y1="526.7" x2="385.5" y2="525.7" stroke-width="1.57"/></g><g clip-path="url(#ca)" stroke="#000" stroke-linecap="butt" fill="none"><line x1="390.2" y1="519.7" x2="394.3" y2="514.3" stroke-width="1.59"/><line x1="394.3" y1="514.3" x2="398.5" y2="508.8" stroke-width="1.58"/><line x1="398.5" y1="508.8" x2="403.2" y2="503.1" stroke-width="1.55"/><line x1="403.2" y1="503.1" x2="404.3" y2="501.7" stroke-width="1.54"/></g><g clip-path="url(#ca)" stroke="#000" stroke-linecap="butt" fill="none"><line x1="409.4" y1="495.7" x2="414.0" y2="490.2" stroke-width="1.53"/><line x1="414.0" y1="490.2" x2="418.6" y2="484.7" stroke-width="1.53"/><line x1="418.6" y1="484.7" x2="423.3" y2="479.1" stroke-width="1.53"/><line x1="423.3" y1="479.1" x2="424.5" y2="477.7" stroke-width="1.53"/></g><g clip-path="url(#ca)" stroke="#000" stroke-linecap="butt" fill="none"><line x1="429.5" y1="471.7" x2="434.0" y2="466.1" stroke-width="1.55"/><line x1="434.0" y1="466.1" x2="438.2" y2="460.7" stroke-width="1.57"/><line x1="438.2" y1="460.7" x2="442.5" y2="455.3" stroke-width="1.58"/><line x1="442.5" y1="455.3" x2="443.8" y2="453.6" stroke-width="1.58"/></g><g clip-path="url(#ca)" stroke="#000" stroke-linecap="butt" fill="none"><line x1="448.4" y1="447.7" x2="452.8" y2="441.9" stroke-width="1.58"/><line x1="452.8" y1="441.9" x2="457.0" y2="436.5" stroke-width="1.58"/><line x1="457.0" y1="436.5" x2="461.4" y2="430.8" stroke-width="1.59"/><line x1="461.4" y1="430.8" x2="462.2" y2="429.7" stroke-width="1.59"/></g><g clip-path="url(#ca)" stroke="#000" stroke-linecap="butt" fill="none"><line x1="466.7" y1="423.7" x2="470.8" y2="418.2" stroke-width="1.61"/><line x1="470.8" y1="418.2" x2="474.4" y2="412.9" stroke-width="1.66"/><line x1="474.4" y1="412.9" x2="477.6" y2="407.1" stroke-width="1.32"/><line x1="477.6" y1="407.1" x2="478.3" y2="405.7" stroke-width="1.32"/></g><g clip-path="url(#ca)" stroke="#000" stroke-linecap="butt" fill="none"><line x1="481.1" y1="399.6" x2="484.3" y2="393.7" stroke-width="1.32"/><line x1="484.3" y1="393.7" x2="487.3" y2="388.7" stroke-width="1.32"/><line x1="487.3" y1="388.7" x2="490.8" y2="382.9" stroke-width="1.32"/><line x1="490.8" y1="382.9" x2="491.5" y2="381.7" stroke-width="1.32"/></g><g clip-path="url(#ca)" stroke="#000" stroke-linecap="butt" fill="none"><line x1="495.5" y1="375.6" x2="499.0" y2="370.5" stroke-width="1.65"/><line x1="499.0" y1="370.5" x2="503.0" y2="365.1" stroke-width="1.61"/><line x1="503.0" y1="365.1" x2="507.3" y2="359.5" stroke-width="1.58"/><line x1="507.3" y1="359.5" x2="508.8" y2="357.7" stroke-width="1.58"/></g><g clip-path="url(#ca)" stroke="#000" stroke-linecap="butt" fill="none"><line x1="513.4" y1="351.7" x2="517.5" y2="346.4" stroke-width="1.59"/><line x1="517.5" y1="346.4" x2="521.6" y2="340.8" stroke-width="1.61"/><line x1="521.6" y1="340.8" x2="526.0" y2="334.9" stroke-width="1.61"/><line x1="526.0" y1="334.9" x2="526.8" y2="333.7" stroke-width="1.61"/></g><g clip-path="url(#ca)" stroke="#000" stroke-linecap="butt" fill="none"><line x1="531.2" y1="327.8" x2="535.3" y2="322.3" stroke-width="1.62"/><line x1="535.3" y1="322.3" x2="539.9" y2="316.8" stroke-width="1.53"/><line x1="539.9" y1="316.8" x2="545.3" y2="311.3" stroke-width="1.43"/><line x1="545.3" y1="311.3" x2="546.9" y2="309.6" stroke-width="1.43"/></g><g clip-path="url(#ca)" stroke="#000" stroke-linecap="butt" fill="none"><line x1="552.9" y1="304.0" x2="558.3" y2="298.9" stroke-width="1.47"/><line x1="558.3" y1="298.9" x2="563.7" y2="294.1" stroke-width="1.49"/><line x1="563.7" y1="294.1" x2="569.3" y2="289.2" stroke-width="1.50"/><line x1="569.3" y1="289.2" x2="571.0" y2="287.6" stroke-width="1.50"/></g><g clip-path="url(#ca)" stroke="#000" stroke-linecap="butt" fill="none"><line x1="576.8" y1="282.7" x2="582.3" y2="278.8" stroke-width="1.63"/><line x1="582.3" y1="278.8" x2="586.8" y2="278.0" stroke-width="1.97"/><line x1="586.8" y1="278.0" x2="591.9" y2="275.6" stroke-width="1.81"/><line x1="591.9" y1="275.6" x2="594.8" y2="273.8" stroke-width="1.68"/></g><g clip-path="url(#ca)" stroke="#000" stroke-linecap="butt" fill="none"><line x1="600.7" y1="269.1" x2="605.8" y2="264.3" stroke-width="1.44"/><line x1="605.8" y1="264.3" x2="610.9" y2="259.9" stroke-width="1.52"/><line x1="610.9" y1="259.9" x2="615.9" y2="257.1" stroke-width="1.74"/><line x1="615.9" y1="257.1" x2="619.0" y2="255.7" stroke-width="1.83"/></g><g clip-path="url(#ca)" stroke="#000" stroke-linecap="butt" fill="none"><line x1="624.9" y1="253.0" x2="629.9" y2="250.5" stroke-width="1.80"/><line x1="629.9" y1="250.5" x2="634.9" y2="248.0" stroke-width="1.78"/><line x1="634.9" y1="248.0" x2="639.9" y2="245.1" stroke-width="1.74"/><line x1="639.9" y1="245.1" x2="643.0" y2="243.2" stroke-width="1.71"/></g><g clip-path="url(#ca)" stroke="#000" stroke-linecap="butt" fill="none"><line x1="648.8" y1="239.6" x2="653.8" y2="236.4" stroke-width="1.68"/><line x1="653.8" y1="236.4" x2="658.7" y2="233.4" stroke-width="1.71"/><line x1="658.7" y1="233.4" x2="664.0" y2="231.2" stroke-width="1.85"/><line x1="664.0" y1="231.2" x2="666.9" y2="230.5" stroke-width="1.94"/></g><g clip-path="url(#ca)" stroke="#000" stroke-linecap="butt" fill="none"><line x1="672.9" y1="229.2" x2="678.4" y2="227.7" stroke-width="1.93"/><line x1="678.4" y1="227.7" x2="683.9" y2="226.1" stroke-width="1.93"/><line x1="683.9" y1="226.1" x2="689.5" y2="224.8" stroke-width="1.94"/><line x1="689.5" y1="224.8" x2="690.9" y2="224.5" stroke-width="1.96"/></g><g clip-path="url(#ca)" stroke="#000" stroke-linecap="butt" fill="none"><line x1="696.9" y1="223.5" x2="702.7" y2="222.7" stroke-width="1.98"/><line x1="702.7" y1="222.7" x2="708.2" y2="222.1" stroke-width="1.99"/><line x1="708.2" y1="222.1" x2="713.9" y2="221.5" stroke-width="1.99"/><line x1="713.9" y1="221.5" x2="714.9" y2="221.3" stroke-width="1.99"/></g><g clip-path="url(#ca)" stroke="#000" stroke-linecap="butt" fill="none"><line x1="720.9" y1="220.7" x2="726.3" y2="220.3" stroke-width="1.99"/><line x1="726.3" y1="220.3" x2="731.8" y2="220.0" stroke-width="2.00"/><line x1="731.8" y1="220.0" x2="737.2" y2="219.5" stroke-width="1.99"/><line x1="737.2" y1="219.5" x2="739.0" y2="219.3" stroke-width="1.99"/></g><g clip-path="url(#ca)" stroke="#000" stroke-linecap="butt" fill="none"><line x1="744.8" y1="218.8" x2="750.4" y2="218.3" stroke-width="1.99"/><line x1="750.4" y1="218.3" x2="755.9" y2="217.9" stroke-width="1.99"/><line x1="755.9" y1="217.9" x2="761.4" y2="217.5" stroke-width="2.00"/><line x1="761.4" y1="217.5" x2="762.9" y2="217.5" stroke-width="2.00"/></g><g clip-path="url(#ca)" stroke="#000" stroke-linecap="butt" fill="none"><line x1="768.8" y1="217.1" x2="771.0" y2="217.0" stroke-width="2.00"/></g>
<g clip-path="url(#ca)" stroke="#cacaca" stroke-linecap="round" fill="none"><line x1="3.5" y1="741.8" x2="11.5" y2="742.8" stroke-width="3.78"/><line x1="11.5" y1="742.8" x2="19.5" y2="738.7" stroke-width="3.58"/><line x1="19.5" y1="738.7" x2="27.5" y2="730.0" stroke-width="3.27"/><line x1="27.5" y1="730.0" x2="35.5" y2="719.6" stroke-width="3.39"/><line x1="35.5" y1="719.6" x2="43.5" y2="717.5" stroke-width="3.73"/><line x1="43.5" y1="717.5" x2="51.5" y2="715.6" stroke-width="3.75"/><line x1="51.5" y1="715.6" x2="59.5" y2="706.0" stroke-width="3.34"/><line x1="59.5" y1="706.0" x2="67.5" y2="712.0" stroke-width="3.40"/><line x1="67.5" y1="712.0" x2="75.5" y2="720.0" stroke-width="3.21"/><line x1="75.5" y1="720.0" x2="83.5" y2="718.0" stroke-width="3.74"/><line x1="83.5" y1="718.0" x2="91.5" y2="715.0" stroke-width="3.67"/><line x1="91.5" y1="715.0" x2="99.5" y2="712.2" stroke-width="3.69"/><line x1="99.5" y1="712.2" x2="107.5" y2="712.2" stroke-width="3.80"/><line x1="107.5" y1="712.2" x2="115.5" y2="712.2" stroke-width="3.80"/><line x1="115.5" y1="712.2" x2="123.5" y2="714.3" stroke-width="3.73"/><line x1="123.5" y1="714.3" x2="131.5" y2="716.5" stroke-width="3.73"/><line x1="131.5" y1="716.5" x2="139.5" y2="715.6" stroke-width="3.79"/><line x1="139.5" y1="715.6" x2="147.5" y2="720.0" stroke-width="3.55"/><line x1="147.5" y1="720.0" x2="155.5" y2="724.0" stroke-width="3.59"/><line x1="155.5" y1="724.0" x2="163.5" y2="713.7" stroke-width="3.38"/><line x1="163.5" y1="713.7" x2="171.5" y2="681.2" stroke-width="3.12"/><line x1="171.5" y1="681.2" x2="179.5" y2="627.4" stroke-width="3.12"/><line x1="179.5" y1="627.4" x2="187.5" y2="571.8" stroke-width="3.12"/><line x1="187.5" y1="571.8" x2="195.5" y2="561.8" stroke-width="3.36"/><line x1="195.5" y1="561.8" x2="203.5" y2="542.5" stroke-width="3.12"/><line x1="203.5" y1="542.5" x2="211.5" y2="502.4" stroke-width="3.12"/><line x1="211.5" y1="502.4" x2="219.5" y2="500.0" stroke-width="3.72"/><line x1="219.5" y1="500.0" x2="227.5" y2="486.0" stroke-width="3.12"/><line x1="227.5" y1="486.0" x2="235.5" y2="471.8" stroke-width="3.12"/><line x1="235.5" y1="471.8" x2="243.5" y2="498.7" stroke-width="3.12"/><line x1="243.5" y1="498.7" x2="251.5" y2="531.1" stroke-width="3.12"/><line x1="251.5" y1="531.1" x2="259.5" y2="385.0" stroke-width="3.12"/><line x1="259.5" y1="385.0" x2="267.5" y2="285.0" stroke-width="3.12"/><line x1="267.5" y1="285.0" x2="275.5" y2="369.5" stroke-width="3.12"/><line x1="275.5" y1="369.5" x2="283.5" y2="375.6" stroke-width="3.39"/><line x1="283.5" y1="375.6" x2="291.5" y2="354.0" stroke-width="3.12"/><line x1="291.5" y1="354.0" x2="299.5" y2="351.8" stroke-width="3.73"/><line x1="299.5" y1="351.8" x2="307.5" y2="320.0" stroke-width="3.12"/><line x1="307.5" y1="320.0" x2="315.5" y2="338.7" stroke-width="3.12"/><line x1="315.5" y1="338.7" x2="323.5" y2="411.0" stroke-width="3.12"/><line x1="323.5" y1="411.0" x2="331.5" y2="433.7" stroke-width="3.12"/><line x1="331.5" y1="433.7" x2="339.5" y2="412.4" stroke-width="3.12"/><line x1="339.5" y1="412.4" x2="347.5" y2="405.0" stroke-width="3.27"/><line x1="347.5" y1="405.0" x2="355.5" y2="396.2" stroke-width="3.28"/><line x1="355.5" y1="396.2" x2="363.5" y2="372.5" stroke-width="3.12"/><line x1="363.5" y1="372.5" x2="371.5" y2="333.7" stroke-width="3.12"/><line x1="371.5" y1="333.7" x2="379.5" y2="316.8" stroke-width="3.12"/><line x1="379.5" y1="316.8" x2="387.5" y2="315.5" stroke-width="3.77"/><line x1="387.5" y1="315.5" x2="395.5" y2="326.2" stroke-width="3.40"/><line x1="395.5" y1="326.2" x2="403.5" y2="333.6" stroke-width="3.27"/><line x1="403.5" y1="333.6" x2="411.5" y2="333.6" stroke-width="3.80"/><line x1="411.5" y1="333.6" x2="419.5" y2="333.6" stroke-width="3.80"/><line x1="419.5" y1="333.6" x2="427.5" y2="326.2" stroke-width="3.27"/><line x1="427.5" y1="326.2" x2="435.5" y2="307.4" stroke-width="3.12"/><line x1="435.5" y1="307.4" x2="443.5" y2="304.3" stroke-width="3.66"/><line x1="443.5" y1="304.3" x2="451.5" y2="291.2" stroke-width="3.12"/><line x1="451.5" y1="291.2" x2="459.5" y2="285.0" stroke-width="3.38"/><line x1="459.5" y1="285.0" x2="467.5" y2="306.2" stroke-width="3.12"/><line x1="467.5" y1="306.2" x2="475.5" y2="258.0" stroke-width="3.12"/><line x1="475.5" y1="258.0" x2="483.5" y2="172.0" stroke-width="3.12"/><line x1="483.5" y1="172.0" x2="491.5" y2="131.0" stroke-width="3.12"/><line x1="491.5" y1="131.0" x2="499.5" y2="131.2" stroke-width="3.80"/><line x1="499.5" y1="131.2" x2="507.5" y2="143.0" stroke-width="3.46"/><line x1="507.5" y1="143.0" x2="515.5" y2="147.4" stroke-width="3.55"/><line x1="515.5" y1="147.4" x2="523.5" y2="90.0" stroke-width="3.12"/><line x1="523.5" y1="90.0" x2="531.5" y2="73.0" stroke-width="3.12"/><line x1="531.5" y1="73.0" x2="539.5" y2="125.0" stroke-width="3.12"/><line x1="539.5" y1="125.0" x2="547.5" y2="150.0" stroke-width="3.12"/><line x1="547.5" y1="150.0" x2="555.5" y2="177.0" stroke-width="3.12"/><line x1="555.5" y1="177.0" x2="563.5" y2="216.2" stroke-width="3.12"/><line x1="563.5" y1="216.2" x2="571.5" y2="216.8" stroke-width="3.79"/><line x1="571.5" y1="216.8" x2="579.5" y2="187.5" stroke-width="3.12"/><line x1="579.5" y1="187.5" x2="587.5" y2="175.5" stroke-width="3.12"/><line x1="587.5" y1="175.5" x2="595.5" y2="181.1" stroke-width="3.44"/><line x1="595.5" y1="181.1" x2="603.5" y2="143.0" stroke-width="3.12"/><line x1="603.5" y1="143.0" x2="611.5" y2="126.2" stroke-width="3.12"/><line x1="611.5" y1="126.2" x2="619.5" y2="156.2" stroke-width="3.12"/><line x1="619.5" y1="156.2" x2="627.5" y2="162.4" stroke-width="3.38"/><line x1="627.5" y1="162.4" x2="635.5" y2="157.4" stroke-width="3.50"/><line x1="635.5" y1="157.4" x2="643.5" y2="203.7" stroke-width="3.12"/><line x1="643.5" y1="203.7" x2="651.5" y2="237.4" stroke-width="3.12"/><line x1="651.5" y1="237.4" x2="659.5" y2="266.2" stroke-width="3.12"/><line x1="659.5" y1="266.2" x2="667.5" y2="296.2" stroke-width="3.12"/><line x1="667.5" y1="296.2" x2="675.5" y2="325.0" stroke-width="3.12"/><line x1="675.5" y1="325.0" x2="683.5" y2="315.6" stroke-width="3.32"/><line x1="683.5" y1="315.6" x2="691.5" y2="271.2" stroke-width="3.12"/><line x1="691.5" y1="271.2" x2="699.5" y2="261.2" stroke-width="3.36"/><line x1="699.5" y1="261.2" x2="707.5" y2="283.7" stroke-width="3.12"/><line x1="707.5" y1="283.7" x2="715.5" y2="303.0" stroke-width="3.12"/><line x1="715.5" y1="303.0" x2="723.5" y2="292.4" stroke-width="3.40"/><line x1="723.5" y1="292.4" x2="731.5" y2="288.7" stroke-width="3.62"/><line x1="731.5" y1="288.7" x2="739.5" y2="299.3" stroke-width="3.40"/><line x1="739.5" y1="299.3" x2="747.5" y2="296.2" stroke-width="3.66"/><line x1="747.5" y1="296.2" x2="755.5" y2="296.8" stroke-width="3.79"/><line x1="755.5" y1="296.8" x2="763.5" y2="286.8" stroke-width="3.36"/><line x1="763.5" y1="286.8" x2="771.5" y2="275.0" stroke-width="3.46"/></g>
<g clip-path="url(#ca)" stroke="#1e8cff" stroke-linecap="round" fill="none"><line x1="3.5" y1="741.8" x2="11.5" y2="742.8" stroke-width="1.84"/><line x1="11.5" y1="742.8" x2="19.5" y2="738.7" stroke-width="1.65"/><line x1="19.5" y1="738.7" x2="27.5" y2="730.0" stroke-width="1.36"/><line x1="27.5" y1="730.0" x2="35.5" y2="719.6" stroke-width="1.47"/><line x1="35.5" y1="719.6" x2="43.5" y2="717.5" stroke-width="1.79"/><line x1="43.5" y1="717.5" x2="51.5" y2="715.6" stroke-width="1.80"/><line x1="51.5" y1="715.6" x2="59.5" y2="706.0" stroke-width="1.42"/><line x1="59.5" y1="706.0" x2="67.5" y2="712.0" stroke-width="1.48"/><line x1="67.5" y1="712.0" x2="75.5" y2="720.0" stroke-width="1.31"/><line x1="75.5" y1="720.0" x2="83.5" y2="718.0" stroke-width="1.79"/><line x1="83.5" y1="718.0" x2="91.5" y2="715.0" stroke-width="1.73"/><line x1="91.5" y1="715.0" x2="99.5" y2="712.2" stroke-width="1.75"/><line x1="99.5" y1="712.2" x2="107.5" y2="712.2" stroke-width="1.85"/><line x1="107.5" y1="712.2" x2="115.5" y2="712.2" stroke-width="1.85"/><line x1="115.5" y1="712.2" x2="123.5" y2="714.3" stroke-width="1.79"/><line x1="123.5" y1="714.3" x2="131.5" y2="716.5" stroke-width="1.78"/><line x1="131.5" y1="716.5" x2="139.5" y2="715.6" stroke-width="1.84"/><line x1="139.5" y1="715.6" x2="147.5" y2="720.0" stroke-width="1.62"/><line x1="147.5" y1="720.0" x2="155.5" y2="724.0" stroke-width="1.65"/><line x1="155.5" y1="724.0" x2="163.5" y2="713.7" stroke-width="1.46"/><line x1="163.5" y1="713.7" x2="171.5" y2="681.2" stroke-width="1.22"/><line x1="171.5" y1="681.2" x2="179.5" y2="627.4" stroke-width="1.22"/><line x1="179.5" y1="627.4" x2="187.5" y2="571.8" stroke-width="1.22"/><line x1="187.5" y1="571.8" x2="195.5" y2="561.8" stroke-width="1.44"/><line x1="195.5" y1="561.8" x2="203.5" y2="542.5" stroke-width="1.22"/><line x1="203.5" y1="542.5" x2="211.5" y2="502.4" stroke-width="1.22"/><line x1="211.5" y1="502.4" x2="219.5" y2="500.0" stroke-width="1.77"/><line x1="219.5" y1="500.0" x2="227.5" y2="486.0" stroke-width="1.22"/><line x1="227.5" y1="486.0" x2="235.5" y2="471.8" stroke-width="1.22"/><line x1="235.5" y1="471.8" x2="243.5" y2="498.7" stroke-width="1.22"/><line x1="243.5" y1="498.7" x2="251.5" y2="531.1" stroke-width="1.22"/><line x1="251.5" y1="531.1" x2="259.5" y2="385.0" stroke-width="1.22"/><line x1="259.5" y1="385.0" x2="267.5" y2="285.0" stroke-width="1.22"/><line x1="267.5" y1="285.0" x2="275.5" y2="369.5" stroke-width="1.22"/><line x1="275.5" y1="369.5" x2="283.5" y2="375.6" stroke-width="1.47"/><line x1="283.5" y1="375.6" x2="291.5" y2="354.0" stroke-width="1.22"/><line x1="291.5" y1="354.0" x2="299.5" y2="351.8" stroke-width="1.78"/><line x1="299.5" y1="351.8" x2="307.5" y2="320.0" stroke-width="1.22"/><line x1="307.5" y1="320.0" x2="315.5" y2="338.7" stroke-width="1.22"/><line x1="315.5" y1="338.7" x2="323.5" y2="411.0" stroke-width="1.22"/><line x1="323.5" y1="411.0" x2="331.5" y2="433.7" stroke-width="1.22"/><line x1="331.5" y1="433.7" x2="339.5" y2="412.4" stroke-width="1.22"/><line x1="339.5" y1="412.4" x2="347.5" y2="405.0" stroke-width="1.36"/><line x1="347.5" y1="405.0" x2="355.5" y2="396.2" stroke-width="1.37"/><line x1="355.5" y1="396.2" x2="363.5" y2="372.5" stroke-width="1.22"/><line x1="363.5" y1="372.5" x2="371.5" y2="333.7" stroke-width="1.22"/><line x1="371.5" y1="333.7" x2="379.5" y2="316.8" stroke-width="1.22"/><line x1="379.5" y1="316.8" x2="387.5" y2="315.5" stroke-width="1.83"/><line x1="387.5" y1="315.5" x2="395.5" y2="326.2" stroke-width="1.48"/><line x1="395.5" y1="326.2" x2="403.5" y2="333.6" stroke-width="1.36"/><line x1="403.5" y1="333.6" x2="411.5" y2="333.6" stroke-width="1.85"/><line x1="411.5" y1="333.6" x2="419.5" y2="333.6" stroke-width="1.85"/><line x1="419.5" y1="333.6" x2="427.5" y2="326.2" stroke-width="1.36"/><line x1="427.5" y1="326.2" x2="435.5" y2="307.4" stroke-width="1.22"/><line x1="435.5" y1="307.4" x2="443.5" y2="304.3" stroke-width="1.73"/><line x1="443.5" y1="304.3" x2="451.5" y2="291.2" stroke-width="1.22"/><line x1="451.5" y1="291.2" x2="459.5" y2="285.0" stroke-width="1.46"/><line x1="459.5" y1="285.0" x2="467.5" y2="306.2" stroke-width="1.22"/><line x1="467.5" y1="306.2" x2="475.5" y2="258.0" stroke-width="1.22"/><line x1="475.5" y1="258.0" x2="483.5" y2="172.0" stroke-width="1.22"/><line x1="483.5" y1="172.0" x2="491.5" y2="131.0" stroke-width="1.22"/><line x1="491.5" y1="131.0" x2="499.5" y2="131.2" stroke-width="1.85"/><line x1="499.5" y1="131.2" x2="507.5" y2="143.0" stroke-width="1.53"/><line x1="507.5" y1="143.0" x2="515.5" y2="147.4" stroke-width="1.62"/><line x1="515.5" y1="147.4" x2="523.5" y2="90.0" stroke-width="1.22"/><line x1="523.5" y1="90.0" x2="531.5" y2="73.0" stroke-width="1.22"/><line x1="531.5" y1="73.0" x2="539.5" y2="125.0" stroke-width="1.22"/><line x1="539.5" y1="125.0" x2="547.5" y2="150.0" stroke-width="1.22"/><line x1="547.5" y1="150.0" x2="555.5" y2="177.0" stroke-width="1.22"/><line x1="555.5" y1="177.0" x2="563.5" y2="216.2" stroke-width="1.22"/><line x1="563.5" y1="216.2" x2="571.5" y2="216.8" stroke-width="1.84"/><line x1="571.5" y1="216.8" x2="579.5" y2="187.5" stroke-width="1.22"/><line x1="579.5" y1="187.5" x2="587.5" y2="175.5" stroke-width="1.22"/><line x1="587.5" y1="175.5" x2="595.5" y2="181.1" stroke-width="1.52"/><line x1="595.5" y1="181.1" x2="603.5" y2="143.0" stroke-width="1.22"/><line x1="603.5" y1="143.0" x2="611.5" y2="126.2" stroke-width="1.22"/><line x1="611.5" y1="126.2" x2="619.5" y2="156.2" stroke-width="1.22"/><line x1="619.5" y1="156.2" x2="627.5" y2="162.4" stroke-width="1.46"/><line x1="627.5" y1="162.4" x2="635.5" y2="157.4" stroke-width="1.57"/><line x1="635.5" y1="157.4" x2="643.5" y2="203.7" stroke-width="1.22"/><line x1="643.5" y1="203.7" x2="651.5" y2="237.4" stroke-width="1.22"/><line x1="651.5" y1="237.4" x2="659.5" y2="266.2" stroke-width="1.22"/><line x1="659.5" y1="266.2" x2="667.5" y2="296.2" stroke-width="1.22"/><line x1="667.5" y1="296.2" x2="675.5" y2="325.0" stroke-width="1.22"/><line x1="675.5" y1="325.0" x2="683.5" y2="315.6" stroke-width="1.41"/><line x1="683.5" y1="315.6" x2="691.5" y2="271.2" stroke-width="1.22"/><line x1="691.5" y1="271.2" x2="699.5" y2="261.2" stroke-width="1.44"/><line x1="699.5" y1="261.2" x2="707.5" y2="283.7" stroke-width="1.22"/><line x1="707.5" y1="283.7" x2="715.5" y2="303.0" stroke-width="1.22"/><line x1="715.5" y1="303.0" x2="723.5" y2="292.4" stroke-width="1.48"/><line x1="723.5" y1="292.4" x2="731.5" y2="288.7" stroke-width="1.68"/><line x1="731.5" y1="288.7" x2="739.5" y2="299.3" stroke-width="1.48"/><line x1="739.5" y1="299.3" x2="747.5" y2="296.2" stroke-width="1.73"/><line x1="747.5" y1="296.2" x2="755.5" y2="296.8" stroke-width="1.84"/><line x1="755.5" y1="296.8" x2="763.5" y2="286.8" stroke-width="1.44"/><line x1="763.5" y1="286.8" x2="771.5" y2="275.0" stroke-width="1.53"/></g>
<g shape-rendering="crispEdges">
<rect x="3" y="314" width="1144" height="1" fill="#000"/>
<rect x="27" y="242" width="361" height="2" fill="#0a84fa"/>
<rect x="228" y="411" width="280" height="2" fill="#0a84fa"/>
<rect x="427" y="124" width="281" height="2" fill="#0a84fa"/>
</g>
<line x1="316.3" y1="459.6" x2="499" y2="291" stroke="#0a84fa" stroke-width="2.1" stroke-linecap="round"/>
<polygon fill="#ff0000" points="492.74,106.64 494.84,105.07 496.06,106.12 496.94,109.09 498.69,110.84 500.78,108.74 503.58,106.99 505.68,107.17 507.08,109.09 504.98,110.49 502.53,112.24 501.31,113.99 503.58,115.73 507.78,117.13 507.08,118.88 505.68,120.63 503.58,120.63 500.43,118.18 498.69,116.78 496.94,119.23 494.14,121.33 492.04,121.33 489.94,119.06 489.77,118.18 492.74,116.78 495.19,114.69 495.71,113.99 493.79,111.54 492.92,109.09"/>
<text class="s" x="47.2" y="239.8" fill="#000" stroke="#000" stroke-width="0.35" textLength="184.4" lengthAdjust="spacing">M30 Adjusted Price Level</text>
<text class="s" x="79.2" y="310.7" fill="#000" stroke="#000" stroke-width="0.35" textLength="104.2" lengthAdjust="spacing">H4 Price Level</text>
<text class="s" x="288.3" y="240" fill="#ff0000" stroke="#ff0000" stroke-width="0.2" textLength="38.7" lengthAdjust="spacing">Short</text>
<text class="s" x="552.4" y="122.8" fill="#ff0000" stroke="#ff0000" stroke-width="0.2" textLength="38.7" lengthAdjust="spacing">Short</text>
<polygon points="6,9 13,9 9.5,13" fill="#c2c2c2"/>
<text class="t" x="18.6" y="14" xml:space="preserve" textLength="206.2" lengthAdjust="spacingAndGlyphs">EURUSD,M30  1.20342 1.20377 1.20270 1.20323</text>
<text class="t" x="1214" y="36.0" textLength="32" lengthAdjust="spacingAndGlyphs">1.20940</text>
<text class="t" x="1214" y="70.0" textLength="32" lengthAdjust="spacingAndGlyphs">1.20855</text>
<text class="t" x="1214" y="104.0" textLength="32" lengthAdjust="spacingAndGlyphs">1.20770</text>
<text class="t" x="1214" y="138.0" textLength="32" lengthAdjust="spacingAndGlyphs">1.20685</text>
<text class="t" x="1214" y="171.0" textLength="32" lengthAdjust="spacingAndGlyphs">1.20600</text>
<text class="t" x="1214" y="205.0" textLength="32" lengthAdjust="spacingAndGlyphs">1.20520</text>
<text class="t" x="1214" y="239.0" textLength="32" lengthAdjust="spacingAndGlyphs">1.20435</text>
<text class="t" x="1214" y="273.0" textLength="32" lengthAdjust="spacingAndGlyphs">1.20350</text>
<text class="t" x="1214" y="307.0" textLength="32" lengthAdjust="spacingAndGlyphs">1.20265</text>
<text class="t" x="1214" y="341.0" textLength="32" lengthAdjust="spacingAndGlyphs">1.20180</text>
<text class="t" x="1214" y="375.0" textLength="32" lengthAdjust="spacingAndGlyphs">1.20095</text>
<text class="t" x="1214" y="409.0" textLength="32" lengthAdjust="spacingAndGlyphs">1.20015</text>
<text class="t" x="1214" y="442.0" textLength="32" lengthAdjust="spacingAndGlyphs">1.19930</text>
<text class="t" x="1214" y="476.0" textLength="32" lengthAdjust="spacingAndGlyphs">1.19845</text>
<text class="t" x="1214" y="510.0" textLength="32" lengthAdjust="spacingAndGlyphs">1.19760</text>
<text class="t" x="1214" y="544.0" textLength="32" lengthAdjust="spacingAndGlyphs">1.19675</text>
<text class="t" x="1214" y="578.0" textLength="32" lengthAdjust="spacingAndGlyphs">1.19590</text>
<text class="t" x="1214" y="612.0" textLength="32" lengthAdjust="spacingAndGlyphs">1.19510</text>
<text class="t" x="1214" y="646.0" textLength="32" lengthAdjust="spacingAndGlyphs">1.19425</text>
<text class="t" x="1214" y="680.0" textLength="32" lengthAdjust="spacingAndGlyphs">1.19340</text>
<text class="t" x="1214" y="713.0" textLength="32" lengthAdjust="spacingAndGlyphs">1.19255</text>
<text class="t" x="1214" y="747.0" textLength="32" lengthAdjust="spacingAndGlyphs">1.19170</text>
<text class="t" x="1214" y="781.0" textLength="32" lengthAdjust="spacingAndGlyphs">1.19085</text>
<rect x="1209" y="275" width="41" height="11" fill="#c8c8c8" shape-rendering="crispEdges"/>
<text class="t" x="1214" y="284" style="fill:#fff" textLength="32" lengthAdjust="spacingAndGlyphs">1.20323</text>
<text class="t" x="2.0" y="793" textLength="47.0" lengthAdjust="spacingAndGlyphs">6 Sep 2017</text>
<text class="t" x="66.0" y="793" textLength="50.2" lengthAdjust="spacingAndGlyphs">6 Sep 20:30</text>
<text class="t" x="130.0" y="793" textLength="50.2" lengthAdjust="spacingAndGlyphs">7 Sep 00:30</text>
<text class="t" x="194.0" y="793" textLength="50.2" lengthAdjust="spacingAndGlyphs">7 Sep 04:30</text>
<text class="t" x="258.0" y="793" textLength="50.2" lengthAdjust="spacingAndGlyphs">7 Sep 08:30</text>
<text class="t" x="322.0" y="793" textLength="50.2" lengthAdjust="spacingAndGlyphs">7 Sep 12:30</text>
<text class="t" x="386.0" y="793" textLength="50.2" lengthAdjust="spacingAndGlyphs">7 Sep 16:30</text>
<text class="t" x="450.0" y="793" textLength="50.2" lengthAdjust="spacingAndGlyphs">7 Sep 20:30</text>
<text class="t" x="514.0" y="793" textLength="50.2" lengthAdjust="spacingAndGlyphs">8 Sep 00:30</text>
<text class="t" x="578.0" y="793" textLength="50.2" lengthAdjust="spacingAndGlyphs">8 Sep 04:30</text>
<text class="t" x="642.0" y="793" textLength="50.2" lengthAdjust="spacingAndGlyphs">8 Sep 08:30</text>
<text class="t" x="706.0" y="793" textLength="50.2" lengthAdjust="spacingAndGlyphs">8 Sep 12:30</text>
<text class="t" x="770.0" y="793" textLength="50.2" lengthAdjust="spacingAndGlyphs">8 Sep 16:30</text>
<text x="1189.6" y="772.4" style="font-family:'DejaVu Sans',sans-serif;font-size:16px;fill:#3a3a3a">✞</text>
</svg></body></html>
